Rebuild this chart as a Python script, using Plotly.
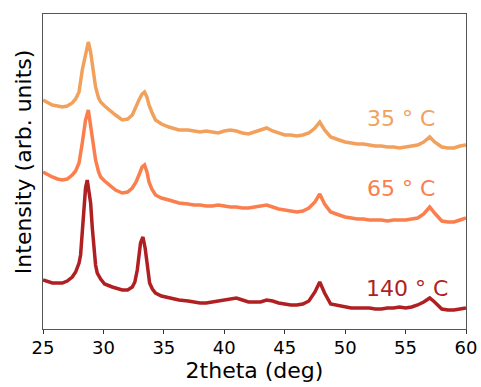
import plotly.graph_objects as go

# 2theta positions (deg) and intensities (arb. units)
x_head_35 = [25.0, 25.4, 25.77, 26.2, 26.6, 27.0, 27.42, 27.7, 27.98, 28.25, 28.52, 28.75, 28.94, 29.08, 29.35,
             29.6, 29.77, 30.1, 30.46, 31.0, 31.56, 32.0, 32.39, 32.7, 32.94, 33.2, 33.4, 33.6, 33.77, 34.0,
             34.31, 34.8, 35.42, 36.25]
x_head_140 = [25.0, 25.4, 25.77, 26.2, 26.6, 27.0, 27.42, 27.7, 27.98, 28.11, 28.25, 28.39, 28.52, 28.66, 28.8,
              28.94, 29.08, 29.22, 29.35, 29.49, 29.77, 30.1, 30.73, 31.56, 32.0, 32.39, 32.6, 32.8, 32.94, 33.07,
              33.27, 33.45, 33.6, 33.82, 34.05, 34.31, 34.8, 35.42, 36.25]
x_tail = [37, 37.5, 38, 38.5, 39, 39.5, 40, 40.5, 41, 41.5, 42, 42.5, 43, 43.5, 44, 44.5, 45, 45.5, 46, 46.5,
          47, 47.5, 47.9, 48.3, 48.8, 49.5, 50, 50.5, 51, 51.5, 52, 52.5, 53, 53.5, 54, 54.5, 55, 55.5, 56, 56.5,
          57, 57.4, 58, 58.5, 59, 59.5, 60]

y_35 = [229, 226, 224, 223, 222, 223, 226, 230, 237, 259, 276, 287, 277, 266, 242,
        231, 227, 223, 219, 214, 209, 210, 214, 223, 229, 235, 237, 232, 224, 217,
        209, 205, 202, 199,
        199, 198, 197, 198, 197, 196, 198, 199, 198, 196, 195, 197, 199, 201, 198, 196, 194, 194, 193, 194,
        196, 201, 207, 199, 192, 189, 187, 186, 185, 185, 184, 183, 183, 182, 182, 181, 182, 183, 184, 187,
        192, 187, 182, 181, 181, 183, 184]

y_65 = [157, 154, 152, 150, 149, 150, 154, 158, 166, 186, 209, 219, 201, 189, 169,
        157, 152, 148, 144, 139, 136, 137, 141, 147, 154, 162, 164, 157, 147, 140,
        134, 131, 129, 126,
        125, 124, 124, 123, 123, 124, 123, 122, 122, 121, 121, 122, 123, 124, 122, 120, 119, 118, 117, 118,
        121, 127, 135, 125, 117, 114, 112, 111, 110, 110, 109, 109, 109, 108, 109, 109, 109, 110, 111, 115,
        122, 116, 108, 107, 107, 109, 111]

y_140 = [49, 47, 46, 46, 46, 48, 52, 57, 66, 74, 99, 124, 141, 149, 139,
         126, 101, 79, 64, 56, 50, 45, 42, 39, 39, 42, 47, 59, 73, 86,
         92, 81, 67, 46, 40, 36, 33, 31, 29,
         28, 27, 26, 26, 27, 28, 29, 30, 31, 29, 27, 27, 27, 29, 28, 26, 25, 24, 24, 25,
         28, 37, 47, 36, 25, 23, 22, 21, 21, 21, 21, 20, 20, 21, 21, 22, 21, 22, 24, 27,
         31, 27, 20, 19, 19, 20, 21]

labels = ["35 ° C", "65 ° C", "140 ° C"]
label_x = [54.6, 54.6, 55.15]
label_y = [211, 141, 41]
colors = ["#F2A15C", "#FB7E4D", "#B01F22"]
x_ticks = [25, 30, 35, 40, 45, 50, 55, 60]

xs_all = [x_head_35 + x_tail, x_head_35 + x_tail, x_head_140 + x_tail]
ys_all = [y_35, y_65, y_140]

fig = go.Figure()
for i in range(3):
    fig.add_trace(go.Scatter(x=xs_all[i], y=ys_all[i], mode="lines", name=labels[i],
                             line=dict(color=colors[i], width=3.5), showlegend=False))
    fig.add_annotation(x=label_x[i], y=label_y[i], text=labels[i], showarrow=False,
                       font=dict(family="DejaVu Sans", size=22, color=colors[i]))

# y-axis title placed as a rotated annotation
fig.add_annotation(xref="paper", yref="paper", x=-0.047, y=0.53, text="Intensity (arb. units)",
                   textangle=-90, showarrow=False, xanchor="center", yanchor="middle",
                   font=dict(family="DejaVu Sans", size=22, color="black"))

fig.update_layout(
    width=481, height=387,
    margin=dict(l=43, r=15, t=14, b=58),
    paper_bgcolor="white", plot_bgcolor="white",
    font=dict(family="DejaVu Sans", color="black"),
    xaxis=dict(range=[25, 60], tickvals=x_ticks, ticks="outside", ticklen=4, tickcolor="#333",
               showline=True, linecolor="#555", linewidth=1, mirror=True, showgrid=False, zeroline=False,
               tickfont=dict(size=18), automargin=False, ticklabelstandoff=-2,
               title=dict(text="2theta (deg)", font=dict(size=22), standoff=4)),
    yaxis=dict(range=[0, 315], showticklabels=False, ticks="", automargin=False,
               showline=True, linecolor="#555", linewidth=1, mirror=True, showgrid=False, zeroline=False),
)
fig.write_html("out.html")
